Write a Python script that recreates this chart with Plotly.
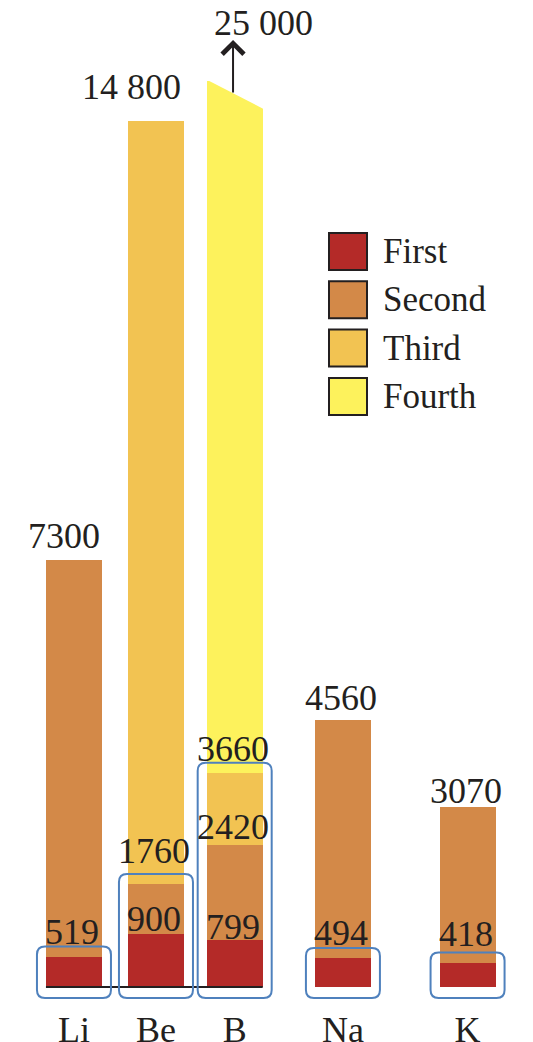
import plotly.graph_objects as go

# ---------------- data ----------------
ELEMENTS = ["Li", "Be", "B", "Na", "K"]
FIRST = [519, 900, 799, 494, 418]
SECOND = [7300, 1760, 2420, 4560, 3070]
THIRD = [None, 14800, 3660, None, None]
FOURTH = [None, None, 25000, None, None]
SERIES_NAMES = ["First", "Second", "Third", "Fourth"]
VALENCE = [1, 2, 3, 1, 1]  # number of ionisation levels enclosed by the blue box

# ---------------- style / layout ----------------
COLORS = ["#B42A28", "#D38948", "#F2C352", "#FDF25C"]
BOX_BLUE = "#4F81BD"
INK = "#231f20"
FONT = "Liberation Serif, Times New Roman, serif"
W, H = 533, 1042
M_T, M_B = 81, 37
PLOT_H = H - M_T - M_B
X_POS = [0, 1, 1.96, 3.28, 4.8]
X_RANGE = [-0.902, 5.598]
BAR_W = 0.683
Y_RANGE = [-308, 15487]

# label nudges in pixels, keyed by (series index, element index)
XSHIFT = {(1, 0): -10, (2, 1): -24}
YSHIFT = {(0, 0): 3, (0, 1): -7, (0, 2): -9, (0, 3): 3, (0, 4): 7,
          (1, 0): 2, (1, 1): 11, (1, 2): -4, (1, 3): 0, (1, 4): -6,
          (2, 1): 12, (2, 2): 2}


def dx(px):
    return px / W * (X_RANGE[1] - X_RANGE[0])


def dy(px):
    return px / PLOT_H * (Y_RANGE[1] - Y_RANGE[0])


def paper_x(px):
    return px / W


def paper_y(py):
    return (H - M_B - py) / PLOT_H


def fmt(v):
    return f"{v:,}".replace(",", " ") if v >= 10000 else str(v)


series = [FIRST, SECOND, THIRD, FOURTH]

fig = go.Figure()
# tallest first so shorter levels are drawn on top
for k in reversed(range(4)):
    fig.add_trace(go.Bar(
        x=X_POS, y=series[k], name=SERIES_NAMES[k], width=BAR_W,
        marker=dict(color=COLORS[k], line=dict(width=0)),
        showlegend=False, hoverinfo="skip",
    ))

shapes = []
annotations = []

# truncated top of the broken (fourth) bar
bx0 = X_POS[2] - BAR_W / 2 - 0.01
bx1 = X_POS[2] + BAR_W / 2 + 0.01
shapes.append(dict(
    type="path", xref="x", yref="paper", layer="above",
    path=f"M{bx0},1.002 L{bx1},1.002 L{bx1},{1 - 28 / PLOT_H} Z",
    fillcolor="white", line=dict(width=0),
))

# baseline under Li, Be, B
shapes.append(dict(type="line", xref="x", yref="y",
                   x0=X_POS[0] - BAR_W / 2, x1=X_POS[2] + BAR_W / 2, y0=0, y1=0,
                   line=dict(color=INK, width=2), layer="above"))

# rounded blue boxes
rx, ry = dx(8), dy(8)
for i, n in enumerate(VALENCE):
    top = series[n - 1][i]
    x0 = X_POS[i] - BAR_W / 2 - dx(9)
    x1 = X_POS[i] + BAR_W / 2 + dx(9)
    y0 = -dy(11)
    y1 = top + dy(10)
    path = (f"M{x0 + rx},{y0} L{x1 - rx},{y0} Q{x1},{y0} {x1},{y0 + ry} "
            f"L{x1},{y1 - ry} Q{x1},{y1} {x1 - rx},{y1} L{x0 + rx},{y1} "
            f"Q{x0},{y1} {x0},{y1 - ry} L{x0},{y0 + ry} Q{x0},{y0} {x0 + rx},{y0} Z")
    shapes.append(dict(type="path", xref="x", yref="y", path=path,
                       line=dict(color=BOX_BLUE, width=2), layer="above"))

# value labels
for k in range(3):
    for i, v in enumerate(series[k]):
        if v is None:
            continue
        annotations.append(dict(
            x=X_POS[i], y=v, xref="x", yref="y", text=fmt(v), showarrow=False,
            xanchor="center", yanchor="bottom",
            xshift=XSHIFT.get((k, i), -2), yshift=YSHIFT.get((k, i), 0),
            font=dict(family=FONT, size=36, color=INK),
        ))

# broken bar: arrow + value
for i, v in enumerate(FOURTH):
    if v is None:
        continue
    head = paper_y(40)
    annotations.append(dict(
        x=X_POS[i] - 0.02, y=head, xref="x", yref="paper", text="", showarrow=True,
        ax=0, ay=54, arrowhead=4, arrowsize=2.1, arrowwidth=2, arrowcolor=INK,
    ))
    annotations.append(dict(
        x=X_POS[i], y=head, xref="x", yref="paper", text=fmt(v), showarrow=False,
        xanchor="center", yanchor="bottom", xshift=29, yshift=-5,
        font=dict(family=FONT, size=36, color=INK),
    ))

# custom legend
for k, name in enumerate(SERIES_NAMES):
    top = 233 + 48.3 * k
    shapes.append(dict(type="rect", xref="paper", yref="paper",
                       x0=paper_x(329), x1=paper_x(367),
                       y0=paper_y(top + 37), y1=paper_y(top),
                       fillcolor=COLORS[k], line=dict(color=INK, width=2)))
    annotations.append(dict(
        x=paper_x(381), y=paper_y(top + 18.5), xref="paper", yref="paper",
        text=name, showarrow=False, xanchor="left", yanchor="middle",
        font=dict(family=FONT, size=35, color=INK),
    ))

fig.update_layout(
    width=W, height=H,
    margin=dict(l=0, r=0, t=M_T, b=M_B, pad=0, autoexpand=False),
    barmode="overlay", bargap=0,
    plot_bgcolor="white", paper_bgcolor="white",
    showlegend=False,
    shapes=shapes, annotations=annotations,
    xaxis=dict(range=X_RANGE, tickvals=X_POS, ticktext=ELEMENTS, automargin=False,
               showgrid=False, zeroline=False, showline=False, ticks="",
               tickfont=dict(family=FONT, size=36, color=INK), fixedrange=True),
    yaxis=dict(range=Y_RANGE, visible=False, automargin=False,
               showgrid=False, zeroline=False, fixedrange=True),
)

fig.write_html(
    "out.html",
    config={"displayModeBar": False},
    post_script="document.body.style.margin='0';document.body.style.overflow='hidden';",
)
